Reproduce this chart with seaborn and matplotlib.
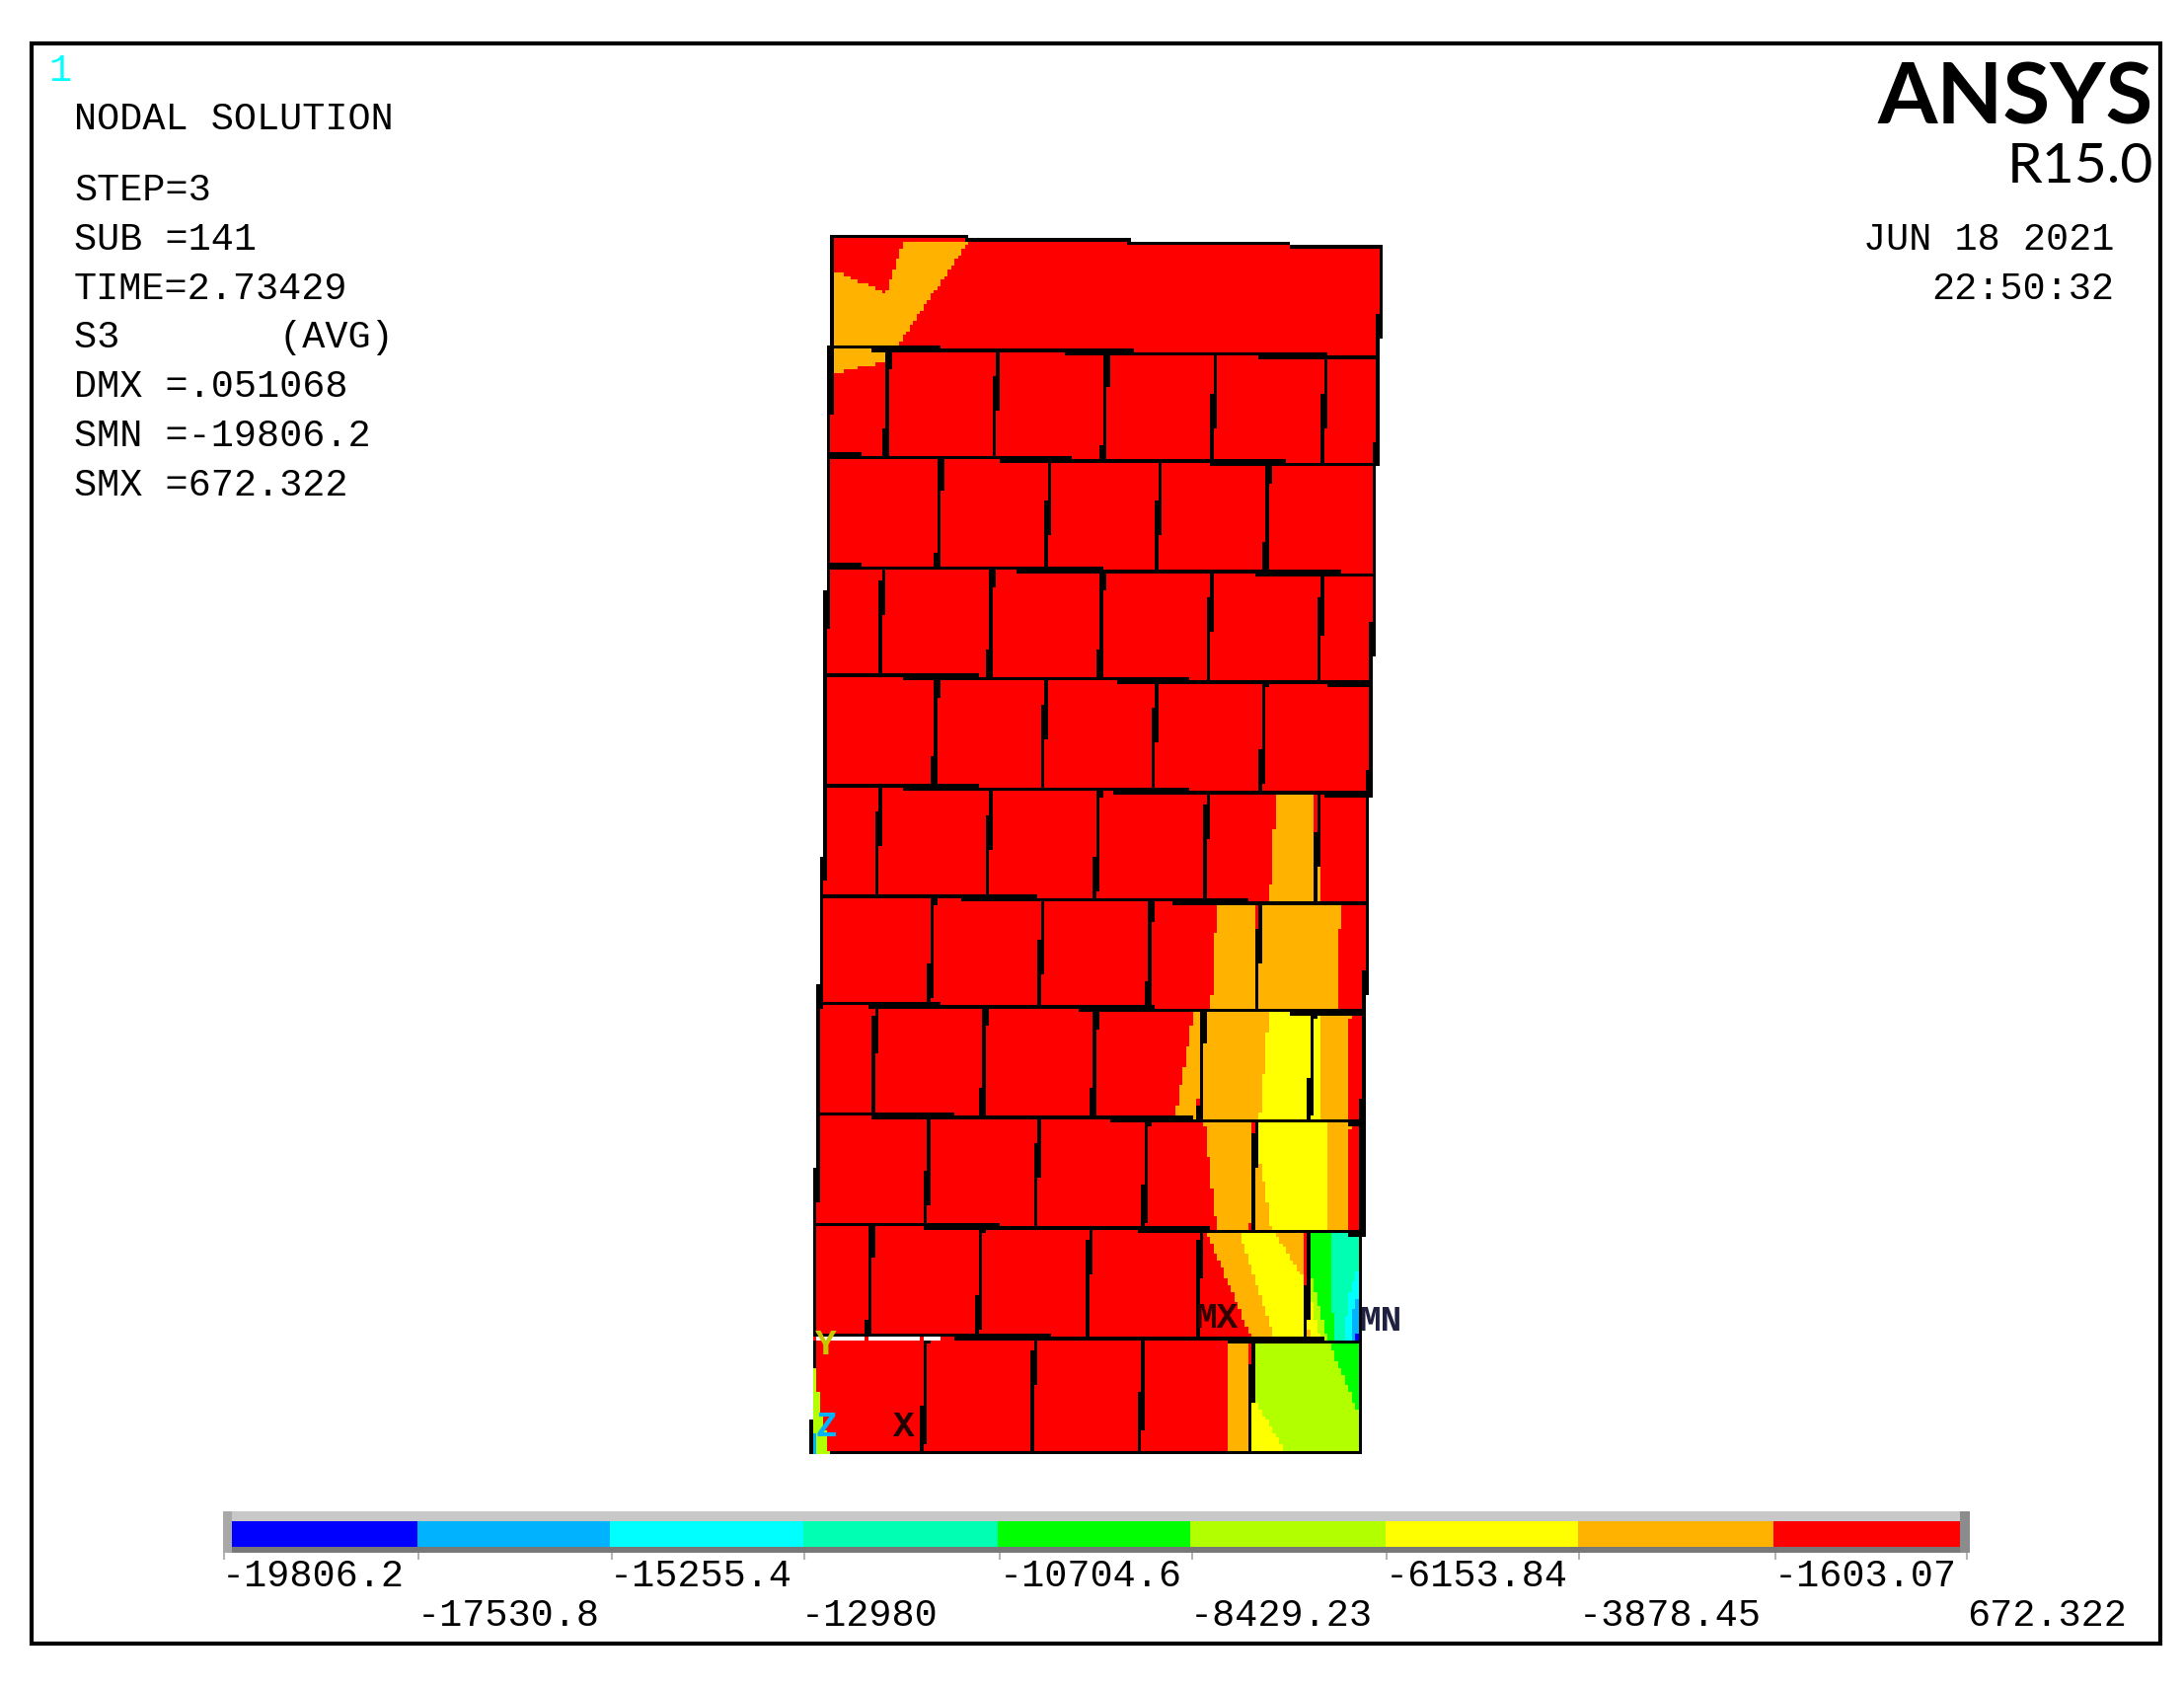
import numpy as np
import seaborn as sns
import matplotlib.pyplot as plt
from matplotlib.colors import ListedColormap
from matplotlib.patches import Rectangle
from matplotlib.path import Path

W, H = 2213, 1711

# contour bands, low to high
band_colors = ['#0000FF', '#00B2FF', '#00FFFF', '#00FFB2', '#00FF00',
               '#B2FF00', '#FFFF00', '#FFB200', '#FF0000']
legend_labels = ['-19806.2', '-17530.8', '-15255.4', '-12980', '-10704.6',
                 '-8429.23', '-6153.84', '-3878.45', '-1603.07', '672.322']
legend_label_x = [225, 423, 618, 812, 1013, 1206, 1404, 1600, 1798, 1993]
legend_tick_x = [227, 424, 620, 815, 1013, 1208, 1405, 1600, 1799, 1993]
legend_band_px = [188, 195, 196, 197, 195, 198, 195, 198, 189]

info_lines = ['NODAL SOLUTION', 'STEP=3', 'SUB =141', 'TIME=2.73429',
              'S3       (AVG)', 'DMX =.051068', 'SMN =-19806.2', 'SMX =672.322']
info_base = [131, 203, 253, 303, 352, 402, 452, 502]

# wall outline, one value per course boundary (picture pixels)
course_left_y = [238, 351, 461, 573, 683, 795, 906, 1016, 1128, 1239, 1351, 1470]
course_right_y = [250, 361, 470, 581, 692, 804, 915, 1025, 1136, 1248, 1358, 1470]
edge_left_x = [841, 841, 840, 838, 836, 836, 833, 830, 828, 826, 825, 823]
edge_right_x = [1400, 1397, 1394, 1392, 1390, 1387, 1386, 1383, 1380, 1380, 1379, 1379]

# vertical joints per course, the top course has none
joints = [[],
          [898, 1008, 1119, 1229, 1341],
          [951, 1061, 1173, 1283],
          [892, 1003, 1115, 1225, 1337],
          [947, 1057, 1169, 1279],
          [889, 1001, 1111, 1221, 1334],
          [943, 1054, 1164, 1274],
          [885, 996, 1108, 1217, 1328],
          [939, 1050, 1160, 1270],
          [881, 992, 1102, 1214, 1324],
          [936, 1046, 1156, 1267]]

# stress regions, everything else in the wall is red
orange_regions = [
    [(843, 273), (898, 297), (916, 243), (982, 243), (910, 349), (843, 349)],
    [(843, 353), (896, 353), (896, 366), (843, 379)],
    [(1293, 802), (1286, 914), (1330, 914), (1332, 802)],
    [(1336, 802), (1339, 802), (1339, 914), (1332, 914)],
    [(1233, 912), (1227, 1023), (1273, 1023), (1273, 912)],
    [(1276, 912), (1358, 912), (1355, 1026), (1276, 1026)],
    [(1210, 1022), (1217, 1022), (1213, 1135), (1190, 1135)],
    [(1219, 1022), (1286, 1022), (1276, 1135), (1217, 1135)],
    [(1339, 1022), (1368, 1022), (1365, 1138), (1339, 1135)],
    [(1220, 1134), (1269, 1134), (1266, 1248), (1233, 1248)],
    [(1273, 1163), (1282, 1203), (1288, 1248), (1273, 1248)],
    [(1345, 1134), (1368, 1134), (1365, 1248), (1345, 1248)],
    [(1222, 1247), (1255, 1247), (1292, 1358), (1269, 1358)],
    [(1290, 1247), (1322, 1247), (1322, 1297)],
    [(1325, 1346), (1332, 1358), (1325, 1358)],
    [(1243, 1356), (1266, 1356), (1266, 1470), (1243, 1470)],
]
yellow_regions = [
    [(1286, 1022), (1326, 1022), (1326, 1135), (1276, 1135)],
    [(1329, 1022), (1339, 1022), (1339, 1135), (1329, 1135)],
    [(1273, 1134), (1345, 1134), (1345, 1248), (1288, 1248), (1282, 1203), (1273, 1163)],
    [(1255, 1247), (1290, 1247), (1322, 1297), (1322, 1358), (1292, 1358)],
    [(1325, 1302), (1338, 1358), (1332, 1358), (1325, 1346)],
    [(1269, 1415), (1302, 1470), (1269, 1470)],
]
lime_regions = [
    [(1325, 1276), (1345, 1358), (1338, 1358), (1325, 1302)],
    [(1269, 1356), (1345, 1356), (1375, 1428), (1380, 1428), (1380, 1470), (1302, 1470), (1269, 1415)],
]
green_regions = [
    [(1325, 1247), (1348, 1247), (1349, 1312), (1352, 1358), (1345, 1358), (1325, 1276)],
    [(1345, 1356), (1380, 1356), (1380, 1428), (1375, 1428)],
]
spring_regions = [
    [(1348, 1247), (1380, 1247), (1380, 1275), (1368, 1307), (1361, 1358), (1352, 1358), (1349, 1312)],
]
cyan_regions = [
    [(1380, 1275), (1380, 1305), (1372, 1320), (1368, 1358), (1361, 1358), (1368, 1307)],
]
sky_regions = [
    [(1380, 1305), (1380, 1358), (1368, 1358), (1372, 1320)],
]
blue_regions = [
    [(1372, 1349), (1380, 1349), (1380, 1358), (1372, 1358)],
]
# foot of the wall at the left, painted over the edge line
corner_lime = [(824, 1385), (826, 1385), (830, 1420), (840, 1472), (824, 1472)]
corner_sky = [(824, 1452), (827, 1452), (827, 1472), (824, 1472)]

# the field is a coarse raster, like the screenshot it comes from
CELL = 3.5
X0, Y0 = 820, 234
nx, ny = 167, 355
BLACK, WHITE = 9, 10

xc = X0 + (np.arange(nx) + 0.5) * CELL
yc = Y0 + (np.arange(ny) + 0.5) * CELL
gx, gy = np.meshgrid(xc, yc)
centres = np.column_stack([gx.ravel(), gy.ravel()])
field = np.full((ny, nx), -1)


def paint(poly, band):
    inside = Path(poly).contains_points(centres).reshape(ny, nx)
    field[inside] = band


def burn(x0, y0, x1, y1, band=BLACK):
    n = int(max(abs(x1 - x0), abs(y1 - y0)) / CELL * 4) + 2
    ix = np.floor((np.linspace(x0, x1, n) - X0) / CELL).astype(int)
    iy = np.floor((np.linspace(y0, y1, n) - Y0) / CELL).astype(int)
    field[np.clip(iy, 0, ny - 1), np.clip(ix, 0, nx - 1)] = band


outline = list(zip(edge_left_x, course_left_y)) + list(zip(edge_right_x, course_right_y))[::-1]
paint(outline, 8)
band_regions = [orange_regions, yellow_regions, lime_regions, green_regions,
                spring_regions, cyan_regions, sky_regions, blue_regions]
for band, regions in zip([7, 6, 5, 4, 3, 2, 1, 0], band_regions):
    for poly in regions:
        paint(poly, band)


def course_y(i, x):
    return np.interp(x, [edge_left_x[i], edge_right_x[i]], [course_left_y[i], course_right_y[i]])


# mortar lines: the offset second pass leaves the thick stretches where elements don't meet
last = len(course_left_y) - 1
for i in range(last + 1):
    xl, xr = edge_left_x[i], edge_right_x[i]
    burn(xl, course_left_y[i], xr, course_right_y[i])
    if 0 < i < last:
        burn(xl, course_left_y[i] + 1.2, xr, course_right_y[i] + 1.2)
for i in range(last):
    for dx in (0, 0.6):
        burn(edge_left_x[i] + dx, course_left_y[i], edge_left_x[i + 1] + dx, course_left_y[i + 1])
        burn(edge_right_x[i] - dx, course_right_y[i], edge_right_x[i + 1] - dx, course_right_y[i + 1])
for i, course in enumerate(joints):
    for x in course:
        top, bot = course_y(i, x), course_y(i + 1, x)
        for dx in (0, 1.2):
            burn(x + 2 + dx, top, x - 2 + dx, bot)

paint(corner_lime, 5)
paint(corner_sky, 1)

# white strip left of the crack in the lower courses
burn(823, 1354, 952, 1354, WHITE)
for x in [825, 878, 934]:
    burn(x, 1354, x, 1354, 8)

sns.set_style('white')
fig = plt.figure(figsize=(W / 100, H / 100), dpi=100, facecolor='white')

# wall
ax_wall = fig.add_axes([X0 / W, 1 - (Y0 + ny * CELL) / H, nx * CELL / W, ny * CELL / H])
cmap = ListedColormap(band_colors + ['#000000', '#FFFFFF'])
sns.heatmap(field, mask=field < 0, cmap=cmap, vmin=-0.5, vmax=10.5, cbar=False,
            xticklabels=False, yticklabels=False, ax=ax_wall)
ax_wall.axis('off')

# legend bar
bar_left, bar_right, bar_top, bar_bot = 235, 1986, 1541, 1567
ax_bar = fig.add_axes([bar_left / W, 1 - bar_bot / H, (bar_right - bar_left) / W, (bar_bot - bar_top) / H])
bar_row = np.repeat(np.arange(9), legend_band_px).reshape(1, -1)
sns.heatmap(bar_row, cmap=ListedColormap(band_colors), vmin=-0.5, vmax=8.5, cbar=False,
            xticklabels=False, yticklabels=False, ax=ax_bar)
ax_bar.axis('off')

# overlay in picture pixels for frame, text and bevel
ax = fig.add_axes([0, 0, 1, 1], zorder=5, facecolor='none')
ax.set_xlim(0, W)
ax.set_ylim(H, 0)
ax.axis('off')

ax.add_patch(Rectangle((32, 43.5), 2157, 1621.5, fill=False, ec='black', lw=3.0))
ax.add_patch(Rectangle((226, 1531), 1770, 10, fc='#C8C8C8', ec='none'))
ax.add_patch(Rectangle((226, 1567), 1770, 6, fc='#787878', ec='none'))
ax.add_patch(Rectangle((226, 1531), 9, 42, fc='#A8A8A8', ec='none'))
ax.add_patch(Rectangle((1986, 1531), 10, 42, fc='#8C8C8C', ec='none'))
ax.vlines(legend_tick_x, 1573, 1580, color='#B4B4B4', lw=1.5)

MONO = 'Liberation Mono'
FS = 38.5 * 0.72


def label(x, y, s, color='black', ha='left', size=FS, family=MONO, weight='normal'):
    ax.text(x, y, s, color=color, ha=ha, va='baseline', fontsize=size, family=family, weight=weight)


label(49, 82, '1', color='#00FFFF')
for s, y in zip(info_lines, info_base):
    label(75, y, s)
label(2142, 253, 'JUN 18 2021', ha='right')
label(2142, 303, '22:50:32', ha='right')
label(2182, 125, 'ANSYS', ha='right', size=87 * 0.72, family='Lato', weight='bold')
label(2182, 185, 'R15.0', ha='right', size=57 * 0.72, family='Lato')

for s, x, i in zip(legend_labels, legend_label_x, range(10)):
    label(x, 1607 if i % 2 == 0 else 1647, s)

# triad and min/max markers
mark = 36 * 0.72
label(826, 1372, 'Y', color='#C8C800', size=mark, weight='bold')
label(826, 1455, 'Z', color='#00B2FF', size=mark, weight='bold')
label(905, 1455, 'X', color='#200000', size=mark, weight='bold')
label(1211, 1345, 'MX', color='#300000', size=mark, weight='bold')
label(1377, 1348, 'MN', color='#202040', size=mark, weight='bold')

fig.savefig('out.png', dpi=100)
